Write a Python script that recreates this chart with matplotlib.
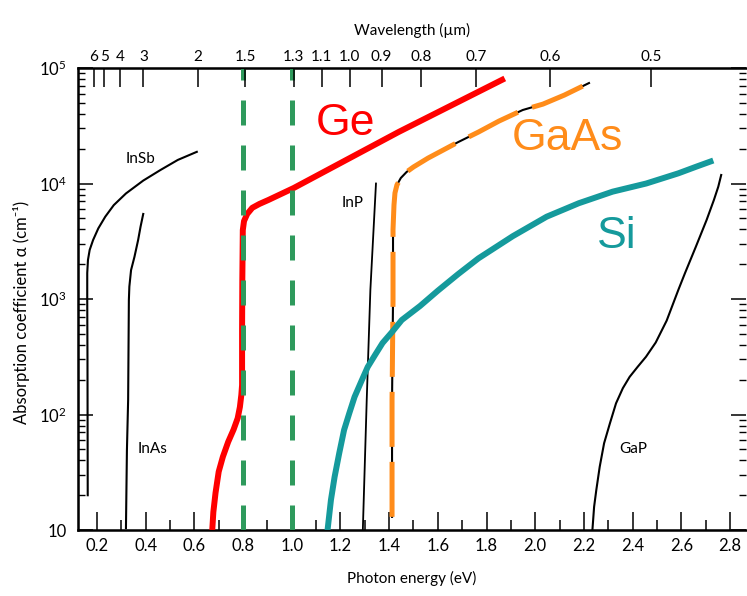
import matplotlib.pyplot as plt
from matplotlib.ticker import FixedLocator, MultipleLocator, LogLocator, NullFormatter

plt.rcParams['font.family'] = ['Lato', 'DejaVu Sans']
plt.rcParams['mathtext.default'] = 'regular'

# Photon energy (eV) / absorption coefficient (cm^-1)
insb_e = [0.162, 0.161, 0.160, 0.160, 0.163, 0.170, 0.184, 0.2055, 0.234,
          0.269, 0.319, 0.390, 0.461, 0.532, 0.610]
insb_a = [20, 300, 980, 1680, 2180, 2660, 3240, 4090, 5160, 6500, 8200,
          10600, 13100, 16000, 18800]

inas_e = [0.319, 0.323, 0.328, 0.331, 0.333, 0.340, 0.354, 0.369, 0.379, 0.390]
inas_a = [10.4, 49, 134, 980, 1280, 1780, 2320, 3240, 4230, 5450]

ge_e = [0.674, 0.678, 0.687, 0.700, 0.717, 0.739, 0.761, 0.778, 0.787, 0.793,
        0.796, 0.796, 0.797, 0.799, 0.804, 0.817, 0.838, 0.867, 0.904, 1.008,
        1.44, 1.864]
ge_a = [10.4, 14.3, 21, 32, 43, 58, 74, 93, 116, 148,
        180, 536, 1450, 3950, 4730, 5450, 6160, 6650, 7200, 9140,
        28000, 79000]

gaas_e = [1.412, 1.412, 1.416, 1.416, 1.42, 1.424, 1.432, 1.448, 1.472, 1.50,
          1.56, 1.683, 1.767, 1.851, 1.949, 2.032, 2.12, 2.221]
gaas_a = [13, 134, 980, 4000, 6520, 8280, 9700, 11160, 12600, 13900,
          16600, 22800, 27900, 34700, 43300, 48700, 58300, 74100]

si_e = [1.148, 1.161, 1.176, 1.195, 1.215, 1.236, 1.258, 1.285, 1.312, 1.342,
        1.373, 1.413, 1.452, 1.527, 1.6, 1.683, 1.767, 1.908, 2.047, 2.179,
        2.318, 2.456, 2.588, 2.662, 2.72]
si_a = [10.4, 18.2, 28.8, 46.2, 73.5, 102, 142, 192, 258, 327,
        416, 521, 658, 870, 1180, 1640, 2250, 3500, 5160, 6750,
        8500, 10000, 12250, 14000, 15500]

inp_e = [1.292, 1.308, 1.323, 1.346]
inp_a = [10, 134, 1200, 10000]

gap_e = [2.235, 2.242, 2.251, 2.265, 2.283, 2.307, 2.332, 2.36, 2.388, 2.421,
         2.455, 2.495, 2.54, 2.588, 2.615, 2.66, 2.704, 2.734, 2.752, 2.764]
gap_a = [10, 15.9, 22.2, 35.3, 56.4, 84, 125, 169, 212, 259,
         316, 420, 650, 1200, 1670, 2840, 4830, 7200, 9380, 11850]

# marked photon energies (eV)
marks_ev = [0.8, 1.0]

# top axis: wavelength labels (um) and where they sit on the energy scale
wl_labels = ['6', '5', '4', '3', '2', '1.5', '1.3', '1.1', '1.0', '0.9',
             '0.8', '0.7', '0.6', '0.5']
wl_pos = [0.187, 0.23, 0.294, 0.391, 0.613, 0.808, 1.008, 1.124, 1.238,
          1.369, 1.532, 1.758, 2.06, 2.476]

y_ticks = [10, 100, 1000, 10000, 100000]
y_labels = ['10', '10$^2$', '10$^3$', '10$^4$', '10$^5$']

fig = plt.figure(figsize=(7.47, 5.96), dpi=100)
ax = fig.add_axes([0.1044, 0.1107, 0.8943, 0.7752])

ax.plot(insb_e, insb_a, color='black', lw=1.5, zorder=2)
ax.plot(inas_e, inas_a, color='black', lw=1.5, zorder=2)
ax.plot(inp_e, inp_a, color='black', lw=1.3, zorder=2)
ax.plot(gap_e, gap_a, color='black', lw=1.5, zorder=2)
ax.plot(gaas_e, gaas_a, color='black', lw=1.5, zorder=3)
ax.plot(gaas_e, gaas_a, color='#ff8c1a', lw=3.6, dashes=(11, 3), zorder=4)
ax.plot(ge_e, ge_a, color='#ff0000', lw=4.3, solid_joinstyle='round', zorder=5)
ax.plot(si_e, si_a, color='#159a9c', lw=4.3, solid_joinstyle='round', zorder=6)
for e in marks_ev:
    ax.plot([e, e], [10, 100000], color='#2e9a5c', lw=3.6, dashes=(5, 4),
            zorder=7, clip_on=False)

ax.text(1.219, 26300, 'Ge', color='#ff0000', fontsize=32, family='Liberation Sans',
        ha='center', va='baseline')
ax.text(2.134, 19500, 'GaAs', color='#ff8c1a', fontsize=32, family='Liberation Sans',
        ha='center', va='baseline')
ax.text(2.336, 2760, 'Si', color='#159a9c', fontsize=32, family='Liberation Sans',
        ha='center', va='baseline')
ax.text(0.377, 15100, 'InSb', fontsize=11, ha='center', va='baseline')
ax.text(0.43, 46, 'InAs', fontsize=11, ha='center', va='baseline')
ax.text(1.252, 6300, 'InP', fontsize=11, ha='center', va='baseline')
ax.text(2.401, 46, 'GaP', fontsize=11, ha='center', va='baseline')

ax.set_yscale('log')
ax.set_xlim(0.122, 2.866)
ax.set_ylim(10, 100000)

ax.xaxis.set_major_locator(MultipleLocator(0.2))
ax.xaxis.set_minor_locator(MultipleLocator(0.1))
ax.xaxis.set_major_formatter(plt.FuncFormatter(lambda v, p: f'{v:.1f}'))
ax.yaxis.set_major_locator(FixedLocator(y_ticks))
ax.set_yticklabels(y_labels)
ax.yaxis.set_minor_locator(LogLocator(base=10, subs=range(2, 10)))
ax.yaxis.set_minor_formatter(NullFormatter())

ax.tick_params(axis='x', which='major', direction='in', length=13, width=1.1,
               labelsize=12, pad=6)
ax.tick_params(axis='x', which='minor', direction='in', length=7, width=1.1)
ax.tick_params(axis='y', which='major', direction='in', length=11, width=1.1,
               labelsize=12, pad=8, right=True)
ax.tick_params(axis='y', which='minor', direction='in', length=5, width=1.0,
               right=True)

for s in ['left', 'bottom', 'top']:
    ax.spines[s].set_linewidth(1.8)
ax.spines['right'].set_visible(False)

ax.set_xlabel('Photon energy (eV)', fontsize=11, labelpad=12)
ax.set_ylabel('Absorption coefficient α (cm⁻¹)', fontsize=12)
ax.yaxis.set_label_coords(-0.072, 0.472)

ax2 = ax.twiny()
ax2.set_xlim(ax.get_xlim())
ax2.xaxis.set_major_locator(FixedLocator(wl_pos))
ax2.set_xticklabels(wl_labels)
ax2.tick_params(axis='x', direction='in', length=14, width=1.1, labelsize=11, pad=3)
ax2.spines['right'].set_visible(False)
ax2.set_xlabel('Wavelength (µm)', fontsize=11, labelpad=11)

fig.savefig('out.png', dpi=100)
